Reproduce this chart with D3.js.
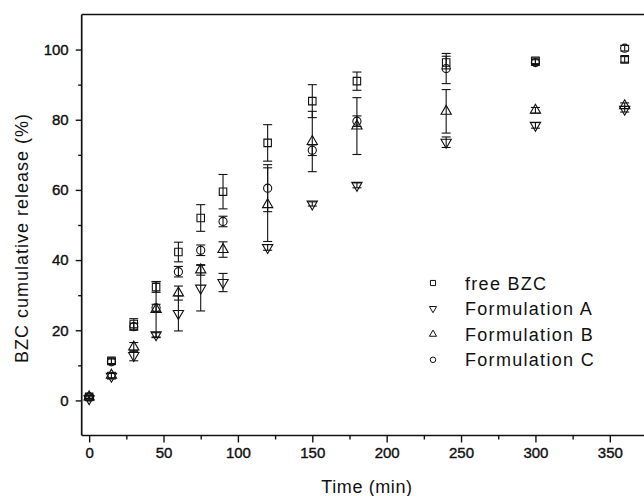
<!DOCTYPE html>
<html>
<head>
<meta charset="utf-8">
<script src="https://cdn.jsdelivr.net/npm/d3@7"></script>
<style>
  body { margin: 0; background: #fff; }
  text { font-family: Arial, "Liberation Sans", sans-serif; fill: #111; }
</style>
</head>
<body>
<svg id="chart" width="644" height="496"></svg>
<script>
// release data (minutes, % released, +/- error)
let times = [0, 15, 30, 45, 60, 75, 90, 120, 150, 180, 240, 300, 360];

let freeBZC   = [1.0, 11.3, 21.8, 32.3, 42.3, 52.0, 59.5, 73.4, 85.3, 91.0, 96.3, 96.8, 97.2];
let freeErr   = [0.5, 0.8, 1.5, 1.5, 2.8, 3.8, 4.9, 5.2, 4.7, 2.6, 1.8, 0.8, 0.8];
let formA     = [0.5, 6.9, 12.8, 18.7, 24.8, 32.0, 33.6, 43.6, 56.0, 61.3, 73.6, 78.4, 83.0];
let formAErr  = [0.5, 0.8, 1.5, 0.6, 5.0, 6.5, 2.6, 0.8, 0.6, 0.7, 1.5, 0.8, 0.8];
let formB     = [1.0, 7.2, 15.2, 25.9, 30.6, 37.2, 43.0, 55.8, 73.8, 78.2, 82.4, 82.7, 84.0];
let formBErr  = [0.5, 0.8, 1.3, 8.0, 2.0, 1.5, 2.2, 10.5, 8.6, 8.1, 6.2, 0.8, 0.8];
let formC     = [1.0, 11.0, 21.0, 26.4, 36.7, 42.8, 51.0, 60.5, 71.3, 79.6, 94.6, 96.3, 100.4];
let formCErr  = [0.5, 0.8, 1.0, 1.0, 1.5, 1.5, 1.5, 6.7, 1.5, 1.5, 4.3, 0.8, 0.8];

let seriesNames = ['free BZC', 'Formulation A', 'Formulation B', 'Formulation C'];
let seriesShapes = ['square', 'down', 'up', 'circle'];

let xTicks = [0, 50, 100, 150, 200, 250, 300, 350];
let xMinor = [25, 75, 125, 175, 225, 275, 325];
let yTicks = [0, 20, 40, 60, 80, 100];
let yMinor = [10, 30, 50, 70, 90];

let series = [
    { name: seriesNames[0], shape: seriesShapes[0], values: freeBZC, errors: freeErr },
    { name: seriesNames[1], shape: seriesShapes[1], values: formA, errors: formAErr },
    { name: seriesNames[2], shape: seriesShapes[2], values: formB, errors: formBErr },
    { name: seriesNames[3], shape: seriesShapes[3], values: formC, errors: formCErr }
];

let svg = d3.select('#chart');

let x = d3.scaleLinear().domain([-5, 375]).range([81.7, 647]);
let y = d3.scaleLinear().domain([-10, 110]).range([435.5, 14.5]);

function symbolPath(shape, big) {
    let s;
    if (shape === 'square') s = d3.symbol(d3.symbolSquare, big ? 56 : 26);
    else if (shape === 'circle') s = d3.symbol(d3.symbolCircle, big ? 52 : 24);
    else s = d3.symbol(d3.symbolTriangle, big ? 46 : 22);
    return s();
}

// axes (outward ticks, minor ticks without labels)
svg.append('g')
    .attr('transform', 'translate(0,' + y(-10) + ')')
    .call(d3.axisBottom(x).tickValues(xTicks).tickSize(7).tickPadding(5));
svg.append('g')
    .attr('transform', 'translate(0,' + y(-10) + ')')
    .call(d3.axisBottom(x).tickValues(xMinor).tickSize(4).tickFormat(''));

svg.append('g')
    .attr('transform', 'translate(' + x(-5) + ',0)')
    .call(d3.axisLeft(y).tickValues(yTicks).tickSize(6).tickPadding(7));
svg.append('g')
    .attr('transform', 'translate(' + x(-5) + ',0)')
    .call(d3.axisLeft(y).tickValues(yMinor).tickSize(3.5).tickFormat(''));

svg.selectAll('.domain').remove();
svg.selectAll('.tick line').attr('stroke', '#111').attr('stroke-width', 1.4);
svg.selectAll('.tick text')
    .style('font-size', '15px')
    .style('font-family', 'Arial, "Liberation Sans", sans-serif')
    .attr('fill', '#111')
    .attr('stroke', '#111')
    .attr('stroke-width', 0.4);

// frame: left, bottom and top (right edge falls outside the picture)
let frame = svg.append('g').attr('stroke', '#111').attr('stroke-width', 1.7);
frame.append('line').attr('x1', x(-5)).attr('x2', x(-5)).attr('y1', y(110)).attr('y2', y(-10));
frame.append('line').attr('x1', x(-5)).attr('x2', x(375)).attr('y1', y(-10)).attr('y2', y(-10));
frame.append('line').attr('x1', x(-5)).attr('x2', x(375)).attr('y1', y(110)).attr('y2', y(110));

// error bars
let capW = 4.5;
series.forEach(function(s) {
    let g = svg.append('g').attr('stroke', '#111').attr('stroke-width', 1.1);
    times.forEach(function(t, i) {
        let cx = x(t), top = y(s.values[i] + s.errors[i]), bot = y(s.values[i] - s.errors[i]);
        g.append('line').attr('x1', cx).attr('x2', cx).attr('y1', top).attr('y2', bot);
        g.append('line').attr('x1', cx - capW).attr('x2', cx + capW).attr('y1', top).attr('y2', top);
        g.append('line').attr('x1', cx - capW).attr('x2', cx + capW).attr('y1', bot).attr('y2', bot);
    });
});

// markers
series.forEach(function(s) {
    svg.append('g')
        .selectAll('path')
        .data(s.values)
        .enter()
        .append('path')
        .attr('d', symbolPath(s.shape, true))
        .attr('transform', function(d, i) {
            return 'translate(' + x(times[i]) + ',' + y(d) + ')' + (s.shape === 'down' ? ' rotate(180)' : '');
        })
        .attr('fill', 'none')
        .attr('stroke', '#111')
        .attr('stroke-width', 1.1);
});

// legend
let legend = svg.append('g').attr('transform', 'translate(433,283)');
series.forEach(function(s, i) {
    let row = legend.append('g').attr('transform', 'translate(0,' + (i * 25.6) + ')');
    row.append('path')
        .attr('d', symbolPath(s.shape, false))
        .attr('transform', s.shape === 'down' ? 'rotate(180)' : null)
        .attr('fill', 'none')
        .attr('stroke', '#111')
        .attr('stroke-width', 1);
    row.append('text')
        .attr('x', 32)
        .attr('y', 6.5)
        .style('font-size', '18px')
        .style('letter-spacing', '1.3px')
        .text(s.name);
});

// axis titles
svg.append('text')
    .attr('x', 367)
    .attr('y', 493)
    .attr('text-anchor', 'middle')
    .style('font-size', '18px')
    .style('letter-spacing', '0.6px')
    .text('Time (min)');

svg.append('text')
    .attr('transform', 'translate(28,238) rotate(-90)')
    .attr('text-anchor', 'middle')
    .style('font-size', '18px')
    .style('letter-spacing', '1px')
    .text('BZC cumulative release (%)');
</script>
</body>
</html>
